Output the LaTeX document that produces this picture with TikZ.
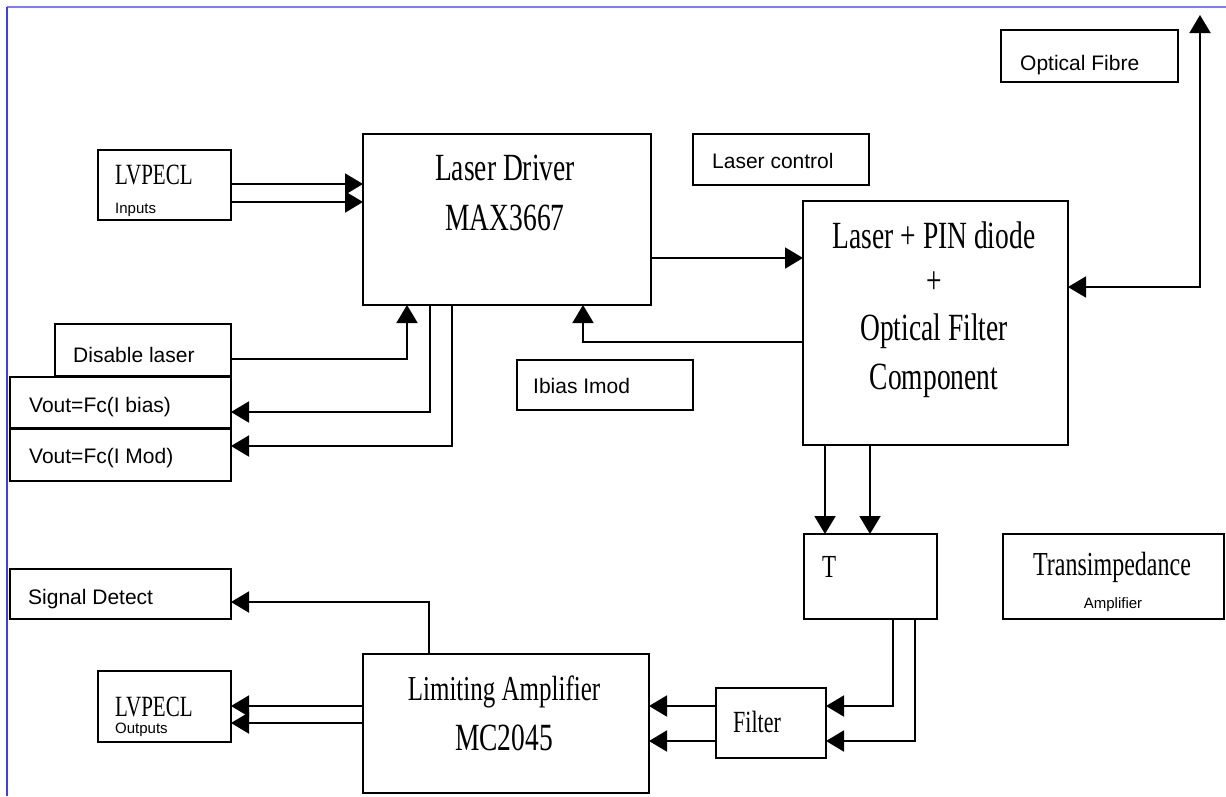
\documentclass[tikz,border=0pt]{standalone}
\usepackage{fontspec}
\usepackage{graphicx}
\setmainfont{Liberation Serif}
\setsansfont{Liberation Sans}
\usetikzlibrary{arrows.meta}
\definecolor{bordtop}{HTML}{7B7BFF}
\definecolor{bordleft}{HTML}{3C3CFF}
\newcommand\tallrm[2]{\rmfamily\fontsize{#1}{#1}\selectfont\scalebox{1}[1.4]{#2}}
\newcommand\smallsf[2]{\sffamily\fontsize{#1}{#1}\selectfont #2}
\tikzset{
  box/.style={draw, line width=1.9pt, rectangle, inner sep=0pt, outer sep=0pt, anchor=north west},
  conn/.style={line width=1.9pt},
  arr/.style={conn, -{Triangle[length=18pt,width=21pt]}},
  arrboth/.style={conn, {Triangle[length=18pt,width=21pt]}-{Triangle[length=18pt,width=21pt]}},
  txtc/.style={inner sep=0pt, anchor=base},
  txtl/.style={inner sep=0pt, anchor=base west},
}
\begin{document}
\begin{tikzpicture}[x=1pt,y=-1pt]
\useasboundingbox (0,0) rectangle (1226,796);
% frame lines
\draw[bordtop, line width=2pt] (7,7) -- (1226,7);
\draw[bordleft, line width=1.5pt] (7,7) -- (7,796);

% boxes
\node[box, minimum width=133pt, minimum height=70pt] (lin) at (98,150) {};
\node[box, minimum width=288pt, minimum height=171pt] (ld) at (363,134) {};
\node[box, minimum width=176pt, minimum height=51pt] (lc) at (693,134) {};
\node[box, minimum width=177pt, minimum height=52pt] (of) at (1001,30) {};
\node[box, minimum width=265pt, minimum height=244pt] (lp) at (803,201) {};
\node[box, minimum width=176pt, minimum height=50pt] (ii) at (517,360) {};
\node[box, minimum width=176pt, minimum height=52pt] (dis) at (55,324) {};
\node[box, minimum width=221pt, minimum height=51pt] (vb) at (10,377) {};
\node[box, minimum width=221pt, minimum height=52pt] (vm) at (10,429) {};
\node[box, minimum width=133pt, minimum height=85pt] (T) at (804,534) {};
\node[box, minimum width=221pt, minimum height=85pt] (ta) at (1003,534) {};
\node[box, minimum width=110pt, minimum height=70pt] (filt) at (716,688) {};
\node[box, minimum width=286pt, minimum height=139pt] (la) at (363,654) {};
\node[box, minimum width=221pt, minimum height=50pt] (sig) at (10,569) {};
\node[box, minimum width=133pt, minimum height=71pt] (lout) at (98,671) {};

% texts
\node[txtl] (linA) at (115,184) {\tallrm{21}{LVPECL}};
\node[txtl] (linB) at (115,213) {\smallsf{15}{Inputs}};
\node[txtc] (ldA) at (505,180) {\tallrm{27.5}{Laser Driver}};
\node[txtc] (ldB) at (505,230) {\tallrm{27.5}{MAX3667}};
\node[txtl] (lcA) at (712,168) {\smallsf{21}{Laser control}};
\node[txtl] (ofA) at (1020,70) {\smallsf{21}{Optical Fibre}};
\node[txtc] (lpA) at (934,248) {\tallrm{27.5}{Laser + PIN diode}};
\node[txtc] (lpB) at (934,293) {\tallrm{27.5}{+}};
\node[txtc] (lpC) at (934,340) {\tallrm{27.5}{Optical Filter}};
\node[txtc] (lpD) at (934,389) {\tallrm{27.5}{Component}};
\node[txtl] (iiA) at (533,393) {\smallsf{21}{Ibias Imod}};
\node[txtl] (disA) at (73,362) {\smallsf{21}{Disable laser}};
\node[txtl] (vbA) at (29,412) {\smallsf{21}{Vout=Fc(I bias)}};
\node[txtl] (vmA) at (29,463) {\smallsf{21}{Vout=Fc(I Mod)}};
\node[txtl] (TA) at (822,577) {\tallrm{23}{T}};
\node[txtc] (taA) at (1112,575) {\tallrm{24}{Transimpedance}};
\node[txtc] (taB) at (1113,608) {\smallsf{15}{Amplifier}};
\node[txtl] (filtA) at (733,732) {\tallrm{22}{Filter}};
\node[txtc] (laA) at (504,700) {\tallrm{25}{Limiting Amplifier}};
\node[txtc] (laB) at (504,750) {\tallrm{27.5}{MC2045}};
\node[txtl] (sigA) at (28,604) {\smallsf{21}{Signal Detect}};
\node[txtl] (loutA) at (115,716) {\tallrm{21}{LVPECL}};
\node[txtl] (loutB) at (115,733) {\smallsf{15}{Outputs}};

% connectors
\draw[arr] (lin.east |- 0,184) -- (ld.west |- 0,184);
\draw[arr] (lin.east |- 0,202) -- (ld.west |- 0,202);
\draw[arr] (ld.east |- 0,258) -- (lp.west |- 0,258);
\draw[arr] (lp.west |- 0,342) -| (583,0 |- ld.south);
\draw[arr] (dis.east |- 0,359) -| (407,0 |- ld.south);
\draw[arr] (430,0 |- ld.south) |- (vb.east |- 0,412);
\draw[arr] (452,0 |- ld.south) |- (vm.east |- 0,446);
\coordinate (fibtip) at (1200,15);
\draw[arrboth] (lp.east |- 0,287) -| (fibtip);
\draw[arr] (825,0 |- lp.south) -- (825,0 |- T.north);
\draw[arr] (870,0 |- lp.south) -- (870,0 |- T.north);
\draw[arr] (893,0 |- T.south) |- (filt.east |- 0,706);
\draw[arr] (915,0 |- T.south) |- (filt.east |- 0,741);
\draw[arr] (filt.west |- 0,706) -- (la.east |- 0,706);
\draw[arr] (filt.west |- 0,741) -- (la.east |- 0,741);
\draw[arr] (429,0 |- la.north) |- (sig.east |- 0,602);
\draw[arr] (la.west |- 0,706) -- (lout.east |- 0,706);
\draw[arr] (la.west |- 0,723) -- (lout.east |- 0,723);
\end{tikzpicture}
\end{document}
